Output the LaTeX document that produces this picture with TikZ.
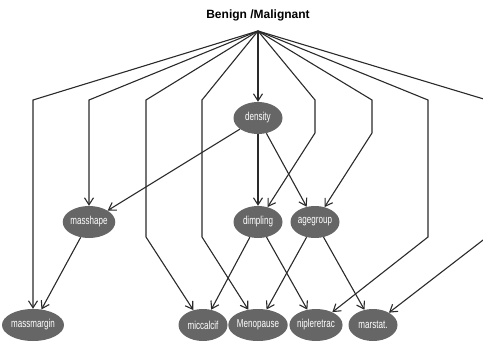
\documentclass[tikz,border=0pt]{standalone}
\usepackage{fontspec}
\setmainfont{Liberation Sans}
\newfontfamily\labelfont[FakeStretch=0.7]{Liberation Sans}
\usetikzlibrary{shapes.geometric, arrows.meta}
\definecolor{Ncolor}{HTML}{666666}
\definecolor{Ecolor}{HTML}{2a2a2a}
\tikzstyle{var} = [ellipse, fill=Ncolor, text=white, minimum width=49pt, minimum height=32pt, inner sep=0pt, font=\labelfont\fontsize{11.5}{13}\selectfont]
\tikzstyle{arrow} = [line width=1.1pt, color=Ecolor, -{Straight Barb[length=7pt,width=9pt]}]

\begin{document}
\begin{tikzpicture}[x=1pt,y=-1pt]
\useasboundingbox (0,0) rectangle (483,343);

\node (class) at (258,15) {\bfseries\fontsize{12}{14}\selectfont Benign /Malignant};
\coordinate (root) at (258,31);

\node (density) [var] at (258,118) {density};
\node (masshape) [var] at (89,222) {masshape};
\node (dimpling) [var] at (258,222) {dimpling};
\node (agegroup) [var] at (315,222) {agegroup};

\node (massmargin) [var] at (33,325) {massmargin};
\node (miccalcif) [var] at (203,325) {miccalcif};
\node (menopause) [var] at (258,325) {Menopause};
\node (nipleretrac) [var] at (316,325) {nipleretrac};
\node (marstat) [var] at (373,325) {marstat.};

% bends of the class arrows
\coordinate (c1) at (33,100);
\coordinate (c2) at (89,100);
\coordinate (c3) at (146,100);
\coordinate (c4) at (202,100);
\coordinate (c5) at (315,100);
\coordinate (c6) at (372,100);
\coordinate (c7) at (428,100);
\coordinate (c8) at (487,100);
\coordinate (d3) at (146,237);
\coordinate (d4) at (202,237);
\coordinate (d5) at (315,133);
\coordinate (d6) at (372,133);
\coordinate (d7) at (428,237);
\coordinate (d8) at (487,237);

\draw [arrow] (root) -- (density);
\draw [arrow] (root) -- (c1) -- (massmargin);
\draw [arrow] (root) -- (c2) -- (masshape);
\draw [arrow] (root) -- (c3) -- (d3) -- (miccalcif);
\draw [arrow] (root) -- (c4) -- (d4) -- (menopause);
\draw [arrow] (root) -- (c5) -- (d5) -- (dimpling);
\draw [arrow] (root) -- (c6) -- (d6) -- (agegroup);
\draw [arrow] (root) -- (c7) -- (d7) -- (nipleretrac);
\draw [arrow] (root) -- (c8) -- (d8) -- (marstat);

\draw [arrow] (density) -- (masshape);
\draw [arrow] (density) -- (dimpling);
\draw [arrow] (density) -- (agegroup);
\draw [arrow] (masshape) -- (massmargin);

\draw [arrow] (dimpling) -- (miccalcif);
\draw [arrow] (dimpling) -- (nipleretrac);
\draw [arrow] (agegroup) -- (menopause);
\draw [arrow] (agegroup) -- (marstat);

\end{tikzpicture}
\end{document}
